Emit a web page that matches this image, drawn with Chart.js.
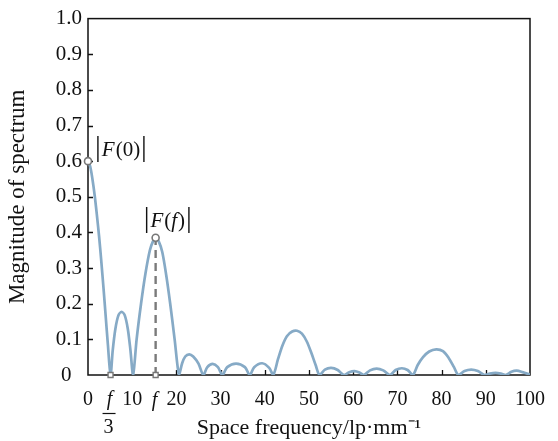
<!DOCTYPE html>
<html><head><meta charset="utf-8">
<script src="https://cdn.jsdelivr.net/npm/chart.js@4.4.1/dist/chart.umd.min.js"></script>
<style>html,body{margin:0;padding:0;background:#fff}</style>
</head><body>
<canvas id="c" width="558" height="441" style="display:block"></canvas>
<script>
// ---- data ----
const freqs = [0,0.5,1.0,1.5,2.0,2.5,3.0,3.5,4.0,4.5,5.1,
  5.6,6.2,6.9,7.6,8.3,9.0,9.6,10.2,
  11.0,12.0,13.0,14.0,14.7,15.3,16.0,16.8,17.7,18.6,19.6,20.6,
  21.3,22.0,22.9,23.8,25.0,26.1,
  27.0,28.2,29.4,30.4,
  31.5,33.5,35.5,36.6,
  37.6,39.4,41.0,41.9,
  43.0,44.0,45.0,46.2,47.3,48.4,49.5,50.5,51.5,52.4,
  53.6,55.0,56.5,57.9,
  59.1,60.3,61.4,62.4,
  63.8,65.3,66.8,68.3,
  69.6,71.0,72.3,73.5,
  74.6,75.8,77.2,78.8,80.3,81.6,82.8,83.8,
  85.2,86.7,88.2,89.7,
  90.9,92.2,93.4,94.5,
  95.8,97.0,98.3,100];
const mags = [0.600,0.585,0.550,0.505,0.450,0.390,0.320,0.245,0.165,0.085,0,
  0.070,0.130,0.168,0.177,0.168,0.130,0.070,0,
  0.100,0.200,0.285,0.350,0.375,0.385,0.375,0.345,0.280,0.200,0.100,0,
  0.033,0.052,0.058,0.052,0.032,0,
  0.022,0.031,0.022,0,
  0.022,0.032,0.022,0,
  0.022,0.033,0.020,0,
  0.045,0.083,0.109,0.122,0.124,0.116,0.094,0.063,0.028,0,
  0.015,0.020,0.014,0,
  0.008,0.011,0.007,0,
  0.013,0.018,0.013,0,
  0.014,0.019,0.014,0,
  0.028,0.050,0.066,0.072,0.067,0.048,0.022,0,
  0.011,0.015,0.011,0,
  0.004,0.006,0.004,0,
  0.009,0.012,0.008,0.001];
const circleX = [0, 15.3];
const circleY = [0.6, 0.385];
const squareX = [5.1, 15.3];
const squareY = [0, 0];
const dashX = [15.3, 15.3];
const dashY = [0, 0.385];
const xTickValues = [0,10,20,30,40,50,60,70,80,90,100];
const xTickLabels = ['0','10','20','30','40','50','60','70','80','90','100'];
const yTickValues = [0,0.1,0.2,0.3,0.4,0.5,0.6,0.7,0.8,0.9,1.0];
const yTickLabels = ['0  ','0.1','0.2','0.3','0.4','0.5','0.6','0.7','0.8','0.9','1.0'];
const fThirdPos = 5.1;   // f/3
const fPos = 15.3;       // f
const xTitle = 'Space frequency/lp\u00b7mm\u207b\u00b9';
const yTitle = 'Magnitude of spectrum';

const SERIF = '"Liberation Serif","Times New Roman",serif';
const pts = (xs, ys) => xs.map((v, i) => ({x: v, y: ys[i]}));

function drawParts(ctx, x, base, parts) {
  parts.forEach(p => {
    ctx.font = p.font;
    ctx.fillText(p.t, x, base + (p.dy || 0));
    x += ctx.measureText(p.t).width + (p.gap || 0);
  });
}

const deco = {
  id: 'deco',
  beforeDatasetsDraw(chart) {
    const {ctx, chartArea: a, scales: {x, y}} = chart;
    ctx.save();
    ctx.strokeStyle = '#111';
    ctx.lineWidth = 1.5;
    ctx.strokeRect(a.left, a.top, a.right - a.left, a.bottom - a.top);
    ctx.beginPath();
    yTickValues.forEach(v => {
      if (v > 0 && v < 1) {
        const py = Math.round(y.getPixelForValue(v)) + 0.5;
        ctx.moveTo(a.left, py); ctx.lineTo(a.left + 5, py);
      }
    });
    xTickValues.forEach(v => {
      if (v > 0 && v < 100) {
        const px = Math.round(x.getPixelForValue(v)) + 0.5;
        ctx.moveTo(px, a.bottom); ctx.lineTo(px, a.bottom - 5);
      }
    });
    ctx.lineWidth = 1.3;
    ctx.stroke();
    ctx.restore();
  },
  afterDraw(chart) {
    const {ctx, scales: {x, y}} = chart;
    ctx.save();
    ctx.fillStyle = '#111';
    ctx.textBaseline = 'alphabetic';
    // f/3 fraction label
    const cx = x.getPixelForValue(fThirdPos) - 2;
    ctx.textAlign = 'center';
    ctx.font = 'italic 20px ' + SERIF;
    ctx.fillText('f', cx + 1, 405);
    ctx.font = '20px ' + SERIF;
    ctx.fillText('3', cx, 433);
    ctx.strokeStyle = '#111'; ctx.lineWidth = 1.2;
    ctx.beginPath(); ctx.moveTo(cx - 6, 413.5); ctx.lineTo(cx + 7, 413.5); ctx.stroke();
    // f label
    ctx.font = 'italic 20px ' + SERIF;
    ctx.fillText('f', x.getPixelForValue(fPos) - 1, 406);
    // |F(0)| and |F(f)|
    ctx.textAlign = 'left';
    const bar = '29px ' + SERIF, it = 'italic 21px ' + SERIF, rm = '21px ' + SERIF;
    drawParts(ctx, x.getPixelForValue(circleX[0]) + 7, y.getPixelForValue(circleY[0]) - 5, [
      {t: '|', font: bar, gap: 1}, {t: 'F', font: it, gap: 1}, {t: '(0)', font: rm, gap: 1}, {t: '|', font: bar}
    ]);
    drawParts(ctx, x.getPixelForValue(circleX[1]) - 12, y.getPixelForValue(circleY[1]) - 11, [
      {t: '|', font: bar, gap: 1}, {t: 'F', font: it, gap: 1}, {t: '(', font: rm}, {t: 'f', font: it, gap: 1}, {t: ')', font: rm, gap: 1}, {t: '|', font: bar}
    ]);
    ctx.restore();
  }
};

new Chart(document.getElementById('c'), {
  type: 'line',
  data: {
    datasets: [
      {data: pts(circleX, circleY), showLine: false, pointStyle: 'circle', pointRadius: 3.5,
       pointBorderColor: '#777', pointBackgroundColor: '#fff', pointBorderWidth: 1.6, clip: false, order: 0},
      {data: pts(squareX, squareY), showLine: false, pointStyle: 'rect', pointRadius: 3.5,
       pointBorderColor: '#777', pointBackgroundColor: '#fff', pointBorderWidth: 1.4, clip: false, order: 1},
      {data: pts(freqs, mags), borderColor: '#86aac6', borderWidth: 2.7, pointRadius: 0,
       tension: 0.3, fill: false, order: 2},
      {data: pts(dashX, dashY), borderColor: '#7a7a7a', borderWidth: 2.4, borderDash: [8, 5],
       pointRadius: 0, fill: false, order: 3}
    ]
  },
  options: {
    responsive: false,
    animation: false,
    devicePixelRatio: 1,
    layout: {padding: {top: 17, right: 18, left: 0, bottom: 0}},
    plugins: {legend: {display: false}, tooltip: {enabled: false}},
    events: [],
    scales: {
      x: {
        type: 'linear', min: 0, max: 100,
        afterBuildTicks: s => { s.ticks = xTickValues.map(v => ({value: v})); },
        afterFit: s => { s.height = 66; },
        grid: {display: false, drawTicks: false},
        border: {display: false},
        ticks: {
          padding: 13, color: '#111', font: {family: SERIF, size: 20},
          maxRotation: 0, autoSkip: false,
          callback: (v, i) => xTickLabels[i]
        },
        title: {display: true, text: xTitle, color: '#111', font: {family: SERIF, size: 22},
                padding: {top: 0, bottom: 0}}
      },
      y: {
        type: 'linear', min: 0, max: 1,
        afterBuildTicks: s => { s.ticks = yTickValues.map(v => ({value: v})); },
        afterFit: s => { s.width = 88; },
        grid: {display: false, drawTicks: false},
        border: {display: false},
        ticks: {
          padding: 6, color: '#111', font: {family: SERIF, size: 21},
          callback: (v, i) => yTickLabels[i]
        },
        title: {display: true, text: yTitle, color: '#111', font: {family: SERIF, size: 23},
                padding: {top: 4, bottom: 0}}
      }
    }
  },
  plugins: [deco]
});
</script>
</body></html>
